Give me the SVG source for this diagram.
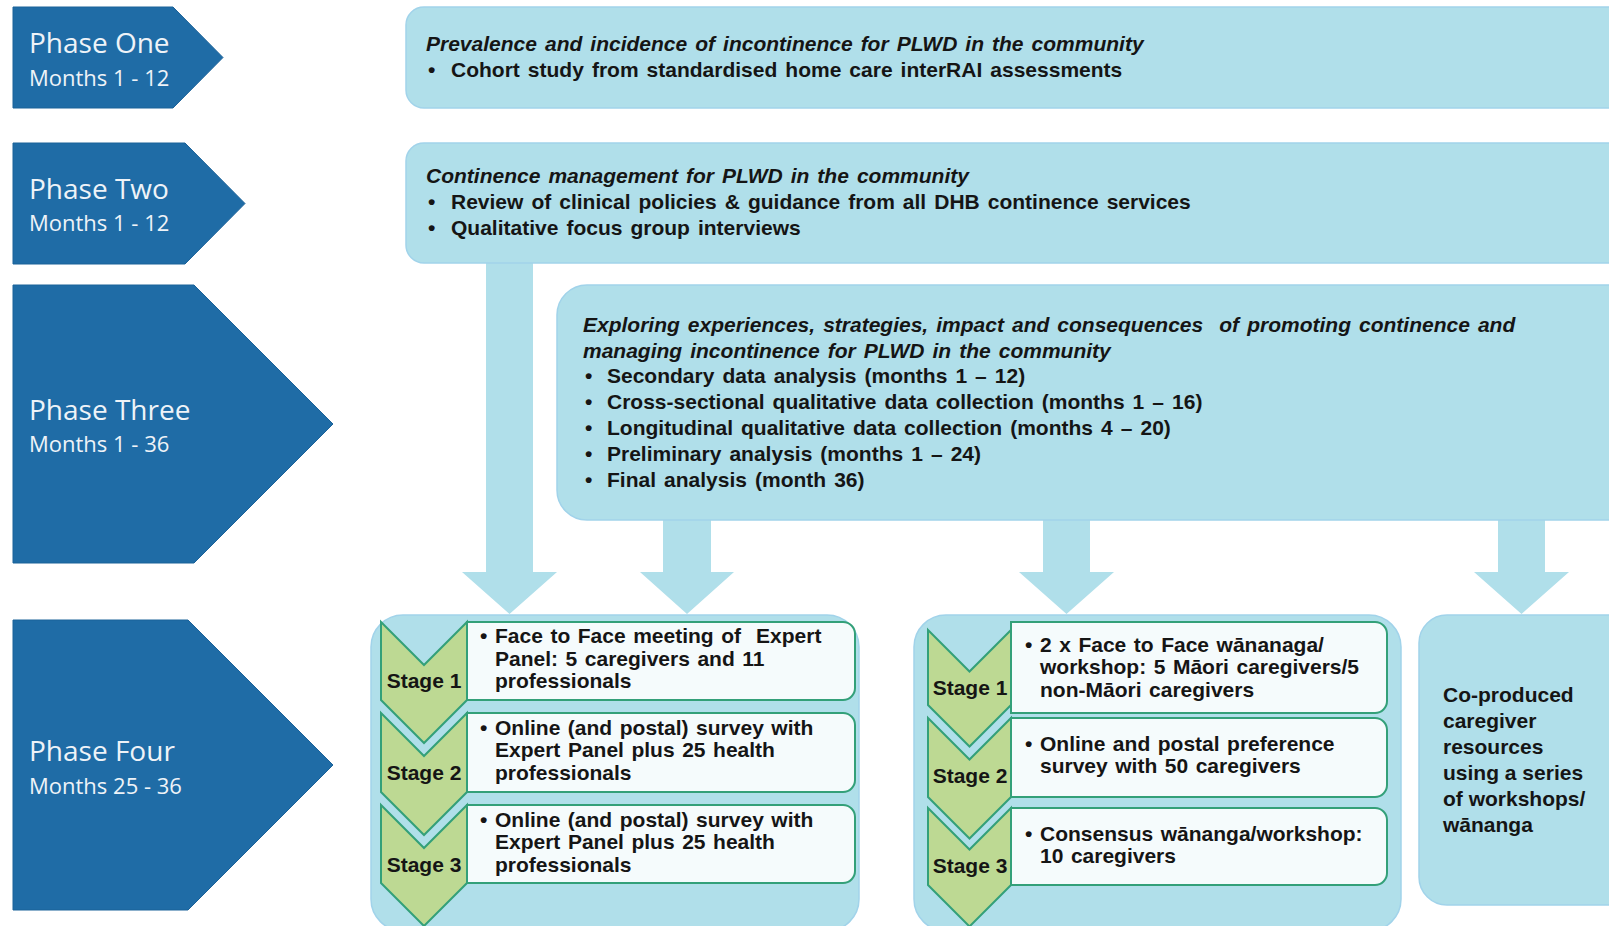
<svg xmlns="http://www.w3.org/2000/svg" width="1609" height="926" viewBox="0 0 1609 926">
<style>
.ph{fill:#1f6ca6;stroke:#1b6299;stroke-width:1}
.pn{font-family:"Open Sans","Noto Sans",sans-serif;font-size:28px;fill:#eef3f8}
.pm{font-family:"Open Sans","Noto Sans",sans-serif;font-size:22px;fill:#eef3f8}
.box{fill:#b0dfea;stroke:#a1d3ea;stroke-width:1.5}
.arr{fill:#b0dfea}
.t{font-family:"Liberation Sans",Arial,sans-serif;font-size:21px;font-weight:bold;fill:#151515;white-space:pre}
.w{word-spacing:2.2px}
.ws{word-spacing:1.7px}
.i{font-style:italic}
.c{text-anchor:middle}
.chev{fill:#bdd993;stroke:#33a079;stroke-width:2;stroke-linejoin:miter}
.sb{fill:#f5fbfc;stroke:#33a079;stroke-width:2}
</style>
<rect width="1609" height="926" fill="#ffffff"/>

<g id="connectors">
  <polygon class="arr" points="486,262 533,262 533,572 557,572 509.5,614 462,572 486,572"/>
  <polygon class="arr" points="663,518 711,518 711,572 734,572 687,614 640,572 663,572"/>
  <polygon class="arr" points="1043,518 1090,518 1090,572 1114,572 1066.5,614 1019,572 1043,572"/>
  <polygon class="arr" points="1498,518 1545,518 1545,572 1569,572 1521.5,614 1474,572 1498,572"/>
</g>

<g id="phase1">
  <polygon class="ph" points="13,7 173,7 223,57.5 173,108 13,108"/>
  <text class="pn" x="29" y="53">Phase One</text>
  <text class="pm" x="29" y="86">Months 1 - 12</text>
</g>
<g id="phase2">
  <polygon class="ph" points="13,143 185,143 245,203.5 185,264 13,264"/>
  <text class="pn" x="29" y="199">Phase Two</text>
  <text class="pm" x="29" y="231">Months 1 - 12</text>
</g>
<g id="phase3">
  <polygon class="ph" points="13,285 194,285 333,424 194,563 13,563"/>
  <text class="pn" x="29" y="420">Phase Three</text>
  <text class="pm" x="29" y="452">Months 1 - 36</text>
</g>
<g id="phase4">
  <polygon class="ph" points="13,620 188,620 333,765 188,910 13,910"/>
  <text class="pn" x="29" y="761">Phase Four</text>
  <text class="pm" x="29" y="794">Months 25 - 36</text>
</g>

<g id="box-phase1">
  <rect class="box" x="406" y="7" width="1240" height="101" rx="18"/>
  <text class="t i w" x="426" y="51">Prevalence and incidence of incontinence for PLWD in the community</text>
  <text class="t" x="428" y="77">•</text>
  <text class="t w" x="451" y="77">Cohort study from standardised home care interRAI assessments</text>
</g>
<g id="box-phase2">
  <rect class="box" x="406" y="143" width="1240" height="120" rx="18"/>
  <text class="t i w" x="426" y="183">Continence management for PLWD in the community</text>
  <text class="t" x="428" y="209">•</text>
  <text class="t w" x="451" y="209">Review of clinical policies &amp; guidance from all DHB continence services</text>
  <text class="t" x="428" y="235">•</text>
  <text class="t w" x="451" y="235">Qualitative focus group interviews</text>
</g>
<g id="box-phase3">
  <rect class="box" x="557" y="285" width="1090" height="235" rx="30"/>
  <text class="t i w" x="583" y="332" xml:space="preserve">Exploring experiences, strategies, impact and consequences  of promoting continence and</text>
  <text class="t i w" x="583" y="358">managing incontinence for PLWD in the community</text>
  <text class="t" x="585" y="383">•</text>
  <text class="t w" x="607" y="383">Secondary data analysis (months 1 – 12)</text>
  <text class="t" x="585" y="409">•</text>
  <text class="t w" x="607" y="409">Cross-sectional qualitative data collection (months 1 – 16)</text>
  <text class="t" x="585" y="435">•</text>
  <text class="t w" x="607" y="435">Longitudinal qualitative data collection (months 4 – 20)</text>
  <text class="t" x="585" y="461">•</text>
  <text class="t w" x="607" y="461">Preliminary analysis (months 1 – 24)</text>
  <text class="t" x="585" y="487">•</text>
  <text class="t w" x="607" y="487">Final analysis (month 36)</text>
</g>

<g id="delphi-group">
  <rect class="box" x="371" y="615" width="488" height="316" rx="32"/>
  <g id="delphi-stage1">
    <polygon class="chev" points="381,622 424,665 467,622 467,700 424,743 381,700"/>
    <path class="sb" d="M467,622 H843 A12,12 0 0 1 855,634 V688 A12,12 0 0 1 843,700 H467 Z"/>
    <text class="t c" x="424" y="688">Stage 1</text>
    <text class="t" x="480" y="643">•</text>
    <text class="t ws" x="495" y="643" xml:space="preserve">Face to Face meeting of  Expert</text>
    <text class="t ws" x="495" y="666">Panel: 5 caregivers and 11</text>
    <text class="t ws" x="495" y="688">professionals</text>
  </g>
  <g id="delphi-stage2">
    <polygon class="chev" points="381,713 424,756 467,713 467,792 424,835 381,792"/>
    <path class="sb" d="M467,713 H843 A12,12 0 0 1 855,725 V780 A12,12 0 0 1 843,792 H467 Z"/>
    <text class="t c" x="424" y="780">Stage 2</text>
    <text class="t" x="480" y="735">•</text>
    <text class="t ws" x="495" y="735">Online (and postal) survey with</text>
    <text class="t ws" x="495" y="757">Expert Panel plus 25 health</text>
    <text class="t ws" x="495" y="780">professionals</text>
  </g>
  <g id="delphi-stage3">
    <polygon class="chev" points="381,805 424,848 467,805 467,883 424,926 381,883"/>
    <path class="sb" d="M467,805 H843 A12,12 0 0 1 855,817 V871 A12,12 0 0 1 843,883 H467 Z"/>
    <text class="t c" x="424" y="872">Stage 3</text>
    <text class="t" x="480" y="827">•</text>
    <text class="t ws" x="495" y="827">Online (and postal) survey with</text>
    <text class="t ws" x="495" y="849">Expert Panel plus 25 health</text>
    <text class="t ws" x="495" y="872">professionals</text>
  </g>
</g>

<g id="caregiver-group">
  <rect class="box" x="914" y="615" width="487" height="316" rx="32"/>
  <g id="caregiver-stage1">
    <polygon class="chev" points="928,630 969.5,671.5 1011,630 1011,705 969.5,746.5 928,705"/>
    <path class="sb" d="M1011,622 H1375 A12,12 0 0 1 1387,634 V701 A12,12 0 0 1 1375,713 H1011 Z"/>
    <text class="t c" x="970" y="695">Stage 1</text>
    <text class="t" x="1025" y="652">•</text>
    <text class="t ws" x="1040" y="652">2 x Face to Face wānanaga/</text>
    <text class="t ws" x="1040" y="674">workshop: 5 Māori caregivers/5</text>
    <text class="t ws" x="1040" y="697">non-Māori caregivers</text>
  </g>
  <g id="caregiver-stage2">
    <polygon class="chev" points="928,718 969.5,759.5 1011,718 1011,797 969.5,838.5 928,797"/>
    <path class="sb" d="M1011,718 H1375 A12,12 0 0 1 1387,730 V785 A12,12 0 0 1 1375,797 H1011 Z"/>
    <text class="t c" x="970" y="783">Stage 2</text>
    <text class="t" x="1025" y="751">•</text>
    <text class="t ws" x="1040" y="751">Online and postal preference</text>
    <text class="t ws" x="1040" y="773">survey with 50 caregivers</text>
  </g>
  <g id="caregiver-stage3">
    <polygon class="chev" points="928,808 969.5,849.5 1011,808 1011,885 969.5,926.5 928,885"/>
    <path class="sb" d="M1011,808 H1375 A12,12 0 0 1 1387,820 V873 A12,12 0 0 1 1375,885 H1011 Z"/>
    <text class="t c" x="970" y="873">Stage 3</text>
    <text class="t" x="1025" y="841">•</text>
    <text class="t ws" x="1040" y="841">Consensus wānanga/workshop:</text>
    <text class="t ws" x="1040" y="863">10 caregivers</text>
  </g>
</g>

<g id="coproduced">
  <rect class="box" x="1419" y="615" width="230" height="290" rx="28"/>
  <text class="t" x="1443" y="702">Co-produced</text>
  <text class="t" x="1443" y="728">caregiver</text>
  <text class="t" x="1443" y="754">resources</text>
  <text class="t" x="1443" y="780">using a series</text>
  <text class="t" x="1443" y="806">of workshops/</text>
  <text class="t" x="1443" y="832">wānanga</text>
</g>
</svg>
